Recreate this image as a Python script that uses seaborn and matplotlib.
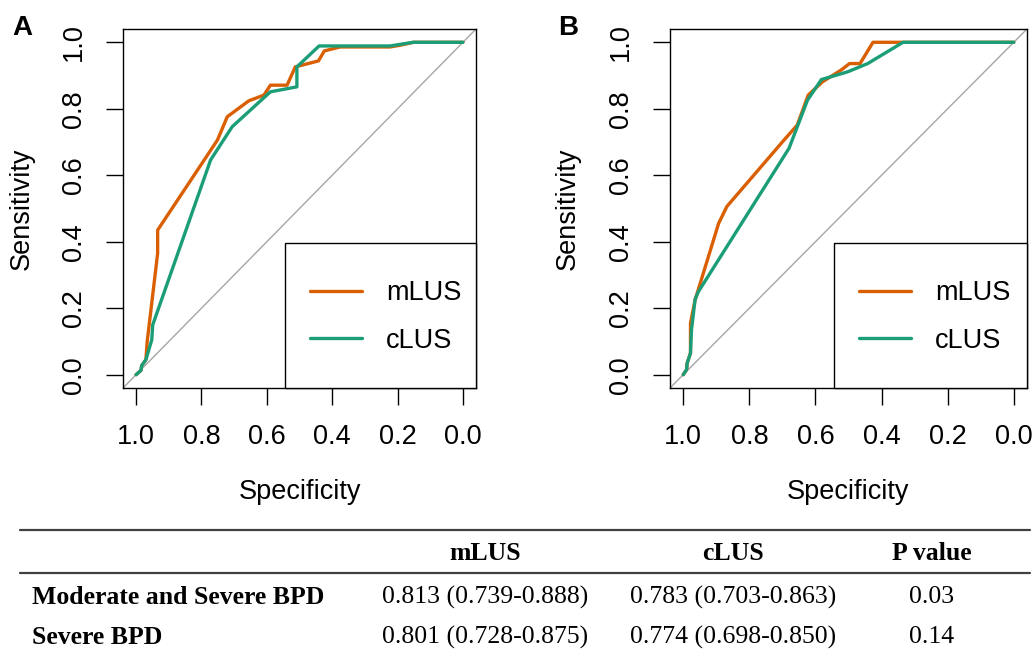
import matplotlib.pyplot as plt
import pandas as pd
import seaborn as sns
from matplotlib.lines import Line2D
from matplotlib.patches import Rectangle

# ROC curves (specificity, sensitivity)
a_mlus_spec = [1.0, 0.985, 0.983, 0.970, 0.966, 0.934, 0.934, 0.751, 0.721, 0.655, 0.609,
               0.589, 0.538, 0.513, 0.442, 0.424, 0.376, 0.223, 0.193, 0.152, 0.0]
a_mlus_sens = [0.0, 0.013, 0.027, 0.045, 0.100, 0.365, 0.435, 0.706, 0.776, 0.824, 0.841,
               0.871, 0.871, 0.926, 0.944, 0.974, 0.986, 0.986, 0.991, 1.0, 1.0]
a_clus_spec = [1.0, 0.985, 0.983, 0.970, 0.952, 0.949, 0.772, 0.706, 0.589, 0.508, 0.508,
               0.440, 0.223, 0.152, 0.0]
a_clus_sens = [0.0, 0.013, 0.027, 0.045, 0.105, 0.150, 0.646, 0.746, 0.851, 0.866, 0.926,
               0.989, 0.989, 1.0, 1.0]

b_mlus_spec = [1.0, 0.990, 0.988, 0.978, 0.978, 0.964, 0.893, 0.868, 0.695, 0.655, 0.622,
               0.579, 0.523, 0.497, 0.465, 0.426, 0.335, 0.0]
b_mlus_sens = [0.0, 0.015, 0.035, 0.065, 0.155, 0.225, 0.455, 0.506, 0.706, 0.751, 0.841,
               0.881, 0.916, 0.936, 0.936, 1.0, 1.0, 1.0]
b_clus_spec = [1.0, 0.990, 0.988, 0.978, 0.975, 0.964, 0.954, 0.680, 0.624, 0.582, 0.503,
               0.442, 0.335, 0.0]
b_clus_sens = [0.0, 0.015, 0.035, 0.065, 0.135, 0.227, 0.250, 0.681, 0.826, 0.888, 0.911,
               0.936, 1.0, 1.0]

series_names = ["mLUS", "cLUS"]
palette = {"mLUS": "#D95F02", "cLUS": "#1B9E77"}
tick_vals = [1.0, 0.8, 0.6, 0.4, 0.2, 0.0]

table_cols = ["mLUS", "cLUS", "P value"]
table_rows = ["Moderate and Severe BPD", "Severe BPD"]
table_mlus = ["0.813 (0.739-0.888)", "0.801 (0.728-0.875)"]
table_clus = ["0.783 (0.703-0.863)", "0.774 (0.698-0.850)"]
table_p = ["0.03", "0.14"]


def make_frame(m_spec, m_sens, c_spec, c_sens):
    parts = []
    for name, sp, se in [("mLUS", m_spec, m_sens), ("cLUS", c_spec, c_sens)]:
        parts.append(pd.DataFrame({"spec": sp, "sens": se, "score": name}))
    return pd.concat(parts, ignore_index=True)


sns.set_style("white")
plt.rcParams["font.family"] = ["Liberation Sans", "DejaVu Sans"]
plt.rcParams.update({"text.color": "black", "axes.labelcolor": "black",
                     "xtick.color": "black", "ytick.color": "black",
                     "axes.edgecolor": "black"})

W, H = 1033, 654
fig = plt.figure(figsize=(W / 100, H / 100), dpi=100)


def fx(px):
    return px / W


def fy(py):
    return 1 - py / H


def draw_panel(rect, df, letter, letter_x):
    ax = fig.add_axes(rect)
    ax.axline((1, 0), (0, 1), color="#A6A6A6", lw=1.0, zorder=1)
    sns.lineplot(data=df, x="spec", y="sens", hue="score", hue_order=series_names,
                 palette=palette, sort=False, estimator=None, lw=2.4, ax=ax, zorder=3)
    ax.set_xlim(1.04, -0.04)
    ax.set_ylim(-0.04, 1.04)
    ax.set_xticks(tick_vals)
    ax.set_yticks(tick_vals)
    ax.set_xticklabels([f"{v:.1f}" for v in tick_vals])
    ax.set_yticklabels([f"{v:.1f}" for v in tick_vals], rotation=90, va="center")
    ax.tick_params(direction="out", length=12, width=1.0, color="black",
                   labelsize=19.5, pad=14, bottom=True, left=True)
    for s in ax.spines.values():
        s.set_color("black")
        s.set_linewidth(1.0)
    ax.set_xlabel("Specificity", fontsize=19.5)
    ax.set_ylabel("Sensitivity", fontsize=19.5)
    ax.xaxis.label.set_va("center")
    ax.yaxis.label.set_va("center")
    ax.xaxis.set_label_coords(0.5, -0.29)
    ax.yaxis.set_label_coords(-0.286, 0.5)

    # legend frame in the lower right corner
    ax.add_patch(Rectangle((0.458, 0.0), 0.542, 0.404, transform=ax.transAxes,
                           fill=True, facecolor="white", edgecolor="black",
                           lw=1.0, zorder=4, clip_on=False))
    handles, labels = ax.get_legend_handles_labels()
    leg = ax.legend(handles, labels, loc="upper left", bbox_to_anchor=(0.53, 0.30),
                    frameon=False, fontsize=19.5, handlelength=1.9, handletextpad=0.9,
                    labelspacing=0.8, borderpad=0, borderaxespad=0)
    leg.set_zorder(5)
    fig.text(fx(letter_x), fy(28), letter, fontsize=20, fontweight="bold",
             ha="center", va="center")
    return ax


draw_panel([fx(123), fy(388), fx(476) - fx(123), fy(29) - fy(388)],
           make_frame(a_mlus_spec, a_mlus_sens, a_clus_spec, a_clus_sens), "A", 22)
draw_panel([fx(670), fy(388), fx(1027) - fx(670), fy(29) - fy(388)],
           make_frame(b_mlus_spec, b_mlus_sens, b_clus_spec, b_clus_sens), "B", 568)

# table below the panels
serif = ["Liberation Serif", "DejaVu Serif"]
col_x = [485, 733, 932]
fig.add_artist(Line2D([fx(20), fx(1030)], [fy(530), fy(530)], color="#404040", lw=1.6))
fig.add_artist(Line2D([fx(20), fx(1030)], [fy(573), fy(573)], color="#404040", lw=1.6))
for cx, name in zip(col_x, table_cols):
    fig.text(fx(cx), fy(554), name, family=serif, fontsize=18.5, fontweight="bold",
             ha="center", va="center")
row_y = [597, 637]
for i, ry in enumerate(row_y):
    fig.text(fx(32), fy(ry), table_rows[i], family=serif, fontsize=18.5,
             fontweight="bold", ha="left", va="center")
    for cx, vals in zip(col_x, [table_mlus, table_clus, table_p]):
        fig.text(fx(cx), fy(ry), vals[i], family=serif, fontsize=18.5,
                 ha="center", va="center")

fig.savefig("out.png", dpi=100, facecolor="white")
